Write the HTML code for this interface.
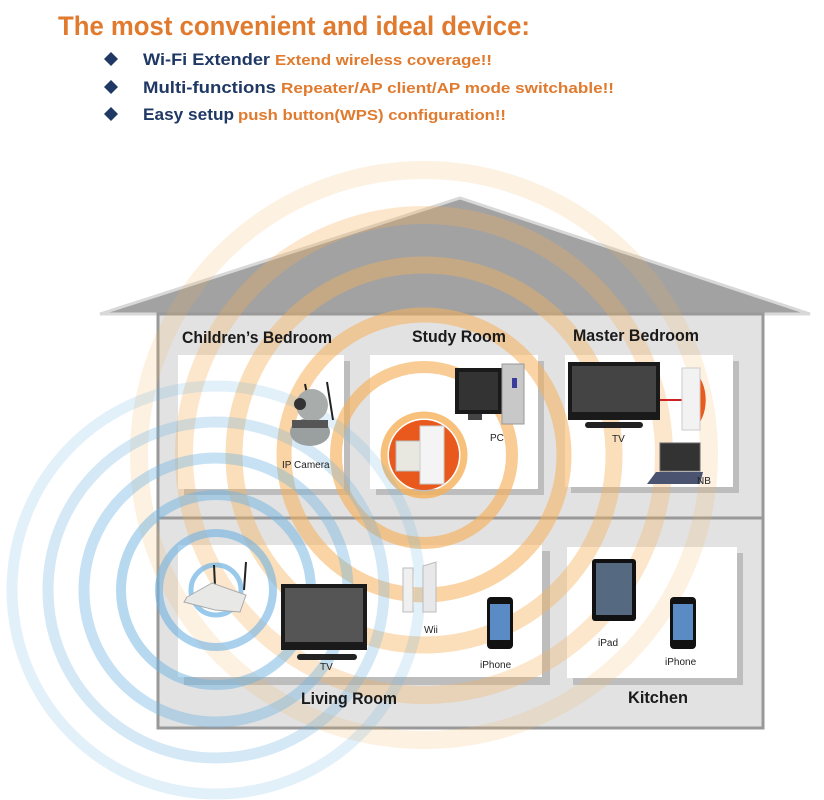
<!DOCTYPE html>
<html><head><meta charset="utf-8"><style>
html,body{margin:0;padding:0;background:#fff;}
body{width:824px;height:800px;overflow:hidden;position:relative;font-family:"Liberation Sans",sans-serif;}
svg{position:absolute;left:0;top:0;}
</style></head><body>
<svg width="824" height="800" viewBox="0 0 824 800" xmlns="http://www.w3.org/2000/svg">
<!-- header text -->
<text x="58" y="35" font-family="Liberation Sans Narrow, Liberation Sans, sans-serif" font-size="27" font-weight="bold" fill="#E07A2E" textLength="472" lengthAdjust="spacingAndGlyphs">The most convenient and ideal device:</text>
<g fill="#1F3864">
<polygon points="111,52 118,59 111,66 104,59"/>
<polygon points="111,80 118,87 111,94 104,87"/>
<polygon points="111,107 118,114 111,121 104,114"/>
</g>
<g font-family="Liberation Sans Narrow, Liberation Sans, sans-serif" font-weight="bold">
<text x="143" y="65" font-size="17" fill="#1F3864" textLength="127" lengthAdjust="spacingAndGlyphs">Wi-Fi Extender</text>
<text x="275" y="65" font-size="15" fill="#E07A2E" textLength="217" lengthAdjust="spacingAndGlyphs">Extend wireless coverage!!</text>
<text x="143" y="93" font-size="17" fill="#1F3864" textLength="133" lengthAdjust="spacingAndGlyphs">Multi-functions</text>
<text x="281" y="93" font-size="15" fill="#E07A2E" textLength="333" lengthAdjust="spacingAndGlyphs">Repeater/AP client/AP mode switchable!!</text>
<text x="143" y="120" font-size="17" fill="#1F3864" textLength="91" lengthAdjust="spacingAndGlyphs">Easy setup</text>
<text x="238" y="120" font-size="15" fill="#E07A2E" textLength="268" lengthAdjust="spacingAndGlyphs">push button(WPS) configuration!!</text>
</g>

<!-- house -->
<polygon points="100,314 460,198 810,314" fill="#a2a2a2" stroke="#d8d8d8" stroke-width="3"/>
<rect x="158" y="314" width="605" height="414" fill="#e2e2e2" stroke="#999" stroke-width="3"/>
<line x1="158" y1="518" x2="763" y2="518" stroke="#999" stroke-width="3"/>
<!-- room panels with shadows -->
<g fill="#bdbdbd">
<rect x="184" y="361" width="166" height="134"/>
<rect x="376" y="361" width="168" height="134"/>
<rect x="571" y="361" width="168" height="132"/>
<rect x="184" y="551" width="366" height="134"/>
<rect x="573" y="553" width="170" height="132"/>
</g>
<g fill="#fff">
<rect x="178" y="355" width="166" height="134"/>
<rect x="370" y="355" width="168" height="134"/>
<rect x="565" y="355" width="168" height="132"/>
<rect x="178" y="545" width="364" height="132"/>
<rect x="567" y="547" width="170" height="131"/>
</g>

<!-- orange rings -->
<g fill="none" stroke="#F5B05A">
<circle cx="424" cy="455" r="285" stroke-width="18" stroke-opacity="0.18"/>
<circle cx="424" cy="455" r="240" stroke-width="18" stroke-opacity="0.3"/>
<circle cx="424" cy="455" r="190" stroke-width="17" stroke-opacity="0.42"/>
<circle cx="424" cy="455" r="140" stroke-width="15" stroke-opacity="0.55"/>
<circle cx="424" cy="455" r="88" stroke-width="12" stroke-opacity="0.65"/>
<circle cx="424" cy="455" r="40" stroke-width="7" stroke-opacity="0.8"/>
</g>
<!-- blue rings -->
<g fill="none" stroke="#6FB3E2">
<circle cx="216" cy="590" r="204" stroke-width="11" stroke-opacity="0.2"/>
<circle cx="216" cy="590" r="168" stroke-width="11" stroke-opacity="0.3"/>
<circle cx="216" cy="590" r="132" stroke-width="11" stroke-opacity="0.4"/>
<circle cx="216" cy="590" r="95" stroke-width="10" stroke-opacity="0.5"/>
<circle cx="216" cy="590" r="57" stroke-width="8" stroke-opacity="0.6"/>
<circle cx="216" cy="590" r="25" stroke-width="5" stroke-opacity="0.7"/>
</g>

<!-- room labels -->
<g font-family="Liberation Sans Narrow, Liberation Sans, sans-serif" font-weight="bold" font-size="17" fill="#1a1a1a">
<text x="182" y="343" textLength="150" lengthAdjust="spacingAndGlyphs">Children’s Bedroom</text>
<text x="412" y="342" textLength="94" lengthAdjust="spacingAndGlyphs">Study Room</text>
<text x="573" y="341" textLength="126" lengthAdjust="spacingAndGlyphs">Master Bedroom</text>
<text x="301" y="704" textLength="96" lengthAdjust="spacingAndGlyphs">Living Room</text>
<text x="628" y="703" textLength="60" lengthAdjust="spacingAndGlyphs">Kitchen</text>
</g>

<!-- IP camera -->
<line x1="327" y1="382" x2="333" y2="420" stroke="#222" stroke-width="2"/>
<line x1="305" y1="384" x2="307" y2="394" stroke="#222" stroke-width="2"/>
<ellipse cx="310" cy="432" rx="20" ry="14" fill="#9aa0a0"/>
<circle cx="312" cy="405" r="16" fill="#a8adab"/>
<circle cx="300" cy="404" r="6" fill="#333"/>
<rect x="292" y="420" width="36" height="8" fill="#555"/>
<!-- extender study -->
<circle cx="424" cy="455" r="35" fill="#E9581C"/>
<rect x="396" y="441" width="24" height="30" fill="#e8e8e0" stroke="#bbb"/>
<rect x="420" y="426" width="24" height="58" fill="#f4f4f4" stroke="#ccc"/>
<!-- PC -->
<rect x="455" y="368" width="47" height="46" fill="#1a1a1a"/>
<rect x="459" y="372" width="39" height="38" fill="#333"/>
<rect x="468" y="414" width="14" height="6" fill="#444"/>
<rect x="502" y="364" width="22" height="60" fill="#c8c8c8" stroke="#999"/>
<rect x="512" y="378" width="5" height="10" fill="#3b3b9e"/>
<text x="490" y="441" font-size="10" fill="#222">PC</text>
<text x="282" y="468" font-size="10" fill="#222">IP Camera</text>
<!-- Master TV -->
<rect x="568" y="362" width="92" height="58" fill="#1a1a1a"/>
<rect x="572" y="366" width="84" height="46" fill="#444"/>
<rect x="585" y="422" width="58" height="6" fill="#222" rx="3"/>
<line x1="660" y1="400" x2="685" y2="400" stroke="#c22" stroke-width="2"/>
<path d="M693 370 a24 34 0 0 1 0 60 z" fill="#E9581C"/>
<rect x="682" y="368" width="18" height="62" fill="#f2f2f2" stroke="#ccc"/>
<text x="612" y="442" font-size="10" fill="#222">TV</text>
<!-- NB -->
<rect x="660" y="443" width="40" height="28" fill="#333" stroke="#666"/>
<polygon points="647,484 700,484 703,472 656,472" fill="#4a5470"/>
<text x="697" y="484" font-size="10" fill="#222">NB</text>
<!-- router -->
<line x1="214" y1="565" x2="215" y2="586" stroke="#222" stroke-width="2"/>
<line x1="246" y1="562" x2="244" y2="590" stroke="#222" stroke-width="2"/>
<polygon points="187,597 212,583 246,595 240,612 215,610 184,602" fill="#e8e8e6" stroke="#aaa"/>
<!-- living TV -->
<rect x="281" y="584" width="86" height="66" fill="#1a1a1a"/>
<rect x="285" y="588" width="78" height="54" fill="#555"/>
<rect x="297" y="654" width="60" height="6" fill="#222" rx="3"/>
<text x="320" y="670" font-size="10" fill="#222">TV</text>
<!-- Wii -->
<rect x="403" y="568" width="10" height="44" fill="#f0f0f0" stroke="#bbb"/>
<polygon points="423,566 436,562 436,612 423,612" fill="#e8e8ea" stroke="#bbb"/>
<text x="424" y="633" font-size="10" fill="#222">Wii</text>
<!-- iPhone living -->
<rect x="487" y="597" width="26" height="52" rx="4" fill="#111"/>
<rect x="490" y="604" width="20" height="36" fill="#5b8bc4"/>
<text x="480" y="668" font-size="10" fill="#222">iPhone</text>
<!-- iPad -->
<rect x="592" y="559" width="44" height="62" rx="3" fill="#111"/>
<rect x="596" y="563" width="36" height="52" fill="#556a80"/>
<text x="598" y="646" font-size="10" fill="#222">iPad</text>
<!-- iPhone kitchen -->
<rect x="670" y="597" width="26" height="52" rx="4" fill="#111"/>
<rect x="673" y="604" width="20" height="36" fill="#5b8bc4"/>
<text x="665" y="665" font-size="10" fill="#222">iPhone</text>
</svg>
</body></html>
